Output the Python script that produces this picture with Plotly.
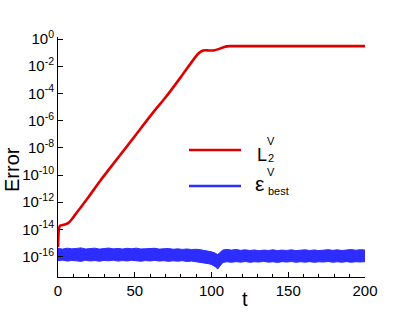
import plotly.graph_objects as go

# ---- data ----
# red curve: L2^V error, given as log10 values
t_L2 = [0, 0.3, 0.7, 1.5, 3, 5, 7, 9, 11, 13, 16, 20, 28, 40, 50, 63, 70, 80, 88, 91,
        93, 94.5, 96, 98, 100, 102, 104, 106, 108, 110, 112, 115, 200]
log_L2 = [-15.3, -14.4, -13.9, -13.72, -13.68, -13.62, -13.5, -13.25, -12.95, -12.65,
          -12.2, -11.6, -10.35, -8.6, -7.15, -5.25, -4.3, -2.8, -1.55, -1.12,
          -0.93, -0.84, -0.82, -0.84, -0.84, -0.82, -0.76, -0.68, -0.6, -0.54, -0.52, -0.52, -0.52]

# blue band: eps_best^V (upper / lower envelope of the noisy band, log10)
t_eps = [0, 3, 6, 9, 12, 15, 18, 21, 24, 27, 30, 33, 36, 39, 42, 45, 48, 51, 54, 57, 60,
         63, 66, 69, 72, 75, 78, 81, 84, 87, 90, 93, 96, 98, 100, 102, 103, 104, 105, 106,
         107, 108, 110, 113, 116, 119, 122, 125, 128, 131, 134, 137, 140, 143, 146, 149,
         152, 155, 158, 161, 164, 167, 170, 173, 176, 179, 182, 185, 188, 191, 194, 197, 200]
log_eps_hi = [-15.40, -15.45, -15.38, -15.43, -15.40, -15.36, -15.44, -15.41, -15.38, -15.45,
              -15.40, -15.37, -15.43, -15.40, -15.44, -15.39, -15.42, -15.38, -15.44, -15.41,
              -15.43, -15.39, -15.45, -15.42, -15.40, -15.46, -15.43, -15.47, -15.44, -15.48,
              -15.46, -15.50, -15.55, -15.60, -15.65, -15.72, -15.78, -15.85, -15.75, -15.62,
              -15.55, -15.50, -15.47, -15.52, -15.48, -15.54, -15.50, -15.55, -15.51, -15.57,
              -15.52, -15.55, -15.50, -15.56, -15.52, -15.55, -15.50, -15.56, -15.53, -15.50,
              -15.55, -15.51, -15.56, -15.52, -15.49, -15.54, -15.50, -15.55, -15.51, -15.48,
              -15.53, -15.49, -15.52]
log_eps_lo = [-16.30, -16.26, -16.33, -16.28, -16.31, -16.35, -16.27, -16.32, -16.29, -16.34,
              -16.28, -16.31, -16.26, -16.33, -16.29, -16.32, -16.27, -16.31, -16.34, -16.29,
              -16.32, -16.28, -16.33, -16.30, -16.35, -16.31, -16.34, -16.30, -16.36, -16.33,
              -16.37, -16.40, -16.45, -16.52, -16.58, -16.68, -16.78, -16.92, -16.75, -16.58,
              -16.48, -16.42, -16.38, -16.42, -16.37, -16.41, -16.36, -16.42, -16.38, -16.40,
              -16.35, -16.41, -16.38, -16.43, -16.37, -16.40, -16.36, -16.42, -16.38, -16.41,
              -16.37, -16.42, -16.38, -16.40, -16.36, -16.42, -16.38, -16.41, -16.37, -16.42,
              -16.38, -16.40, -16.37]

y_tick_exps = [0, -2, -4, -6, -8, -10, -12, -14, -16]
x_tick_vals = [0, 50, 100, 150, 200]

RED = "rgb(222,0,0)"
BLUE = "rgb(45,45,255)"
FONT = "Liberation Sans, Arial, sans-serif"

fig = go.Figure()

fig.add_trace(go.Scatter(x=t_eps, y=[10 ** v for v in log_eps_lo], mode="lines",
                         line=dict(color=BLUE, width=1), showlegend=False, hoverinfo="skip"))
fig.add_trace(go.Scatter(x=t_eps, y=[10 ** v for v in log_eps_hi], mode="lines",
                         line=dict(color=BLUE, width=1), fill="tonexty", fillcolor=BLUE,
                         showlegend=False, name="eps_best"))
fig.add_trace(go.Scatter(x=t_L2, y=[10 ** v for v in log_L2], mode="lines",
                         line=dict(color=RED, width=2.6, shape="spline", smoothing=0.6),
                         showlegend=False, name="L2"))

FIG_W, FIG_H = 415, 312
L, R, T, B = 58, 50, 37, 35
W = FIG_W - L - R
H = FIG_H - T - B


def px(xp):
    return (xp - L) / W


def py(yp):
    return (FIG_H - B - yp) / H


# legend keys
fig.add_shape(type="line", xref="paper", yref="paper", x0=px(189), x1=px(241), y0=py(150), y1=py(150),
              line=dict(color=RED, width=2.6))
fig.add_shape(type="line", xref="paper", yref="paper", x0=px(189), x1=px(241), y0=py(186), y1=py(186),
              line=dict(color=BLUE, width=2.6))

ann = []


def txt(s, xp, yp, size, xanchor="left"):
    ann.append(dict(text=s, x=px(xp), y=py(yp), xref="paper", yref="paper", showarrow=False,
                    xanchor=xanchor, yanchor="middle", font=dict(size=size, color="black", family=FONT),
                    borderpad=0))


txt("L", 256, 154.5, 18)
txt("V", 266, 140.5, 11)
txt("2", 267, 157.5, 11)
txt("ε", 254, 183, 21)
txt("V", 266, 172, 11)
txt("best", 267, 190.5, 11)

# axis titles
ann.append(dict(text="Error", x=px(12), y=py(170), xref="paper", yref="paper", showarrow=False,
                textangle=-90, xanchor="center", yanchor="middle",
                font=dict(size=20, color="black", family=FONT)))
ann.append(dict(text="t", x=px(245), y=py(299), xref="paper", yref="paper", showarrow=False,
                xanchor="center", yanchor="middle", font=dict(size=20, color="black", family=FONT)))

fig.update_layout(
    width=FIG_W, height=FIG_H,
    margin=dict(l=L, r=R, t=T, b=B),
    paper_bgcolor="white", plot_bgcolor="white",
    font=dict(family=FONT, size=15, color="black"),
    annotations=ann,
    xaxis=dict(range=[0, 200], showgrid=False, zeroline=False, showline=True, linecolor="black",
               linewidth=1, ticks="inside", ticklen=5, tickcolor="black",
               tickvals=x_tick_vals, ticktext=[str(v) for v in x_tick_vals],
               tickfont=dict(size=15), automargin=False,
               minor=dict(dtick=10, ticks="inside", ticklen=3, tickcolor="black", showgrid=False)),
    yaxis=dict(type="log", range=[-17.5, 0.15], showgrid=False, zeroline=False, showline=True,
               linecolor="black", linewidth=1, ticks="inside", ticklen=5, tickcolor="black",
               tickvals=[10.0 ** e for e in y_tick_exps],
               ticktext=["10<sup>%d</sup>" % e for e in y_tick_exps],
               tickfont=dict(size=15), automargin=False),
)

# remove the browser's default page margin so the figure sits at the window origin
fig.write_html("out.html", config={"displayModeBar": False},
               post_script="document.body.style.margin='0';document.body.style.padding='0';")
